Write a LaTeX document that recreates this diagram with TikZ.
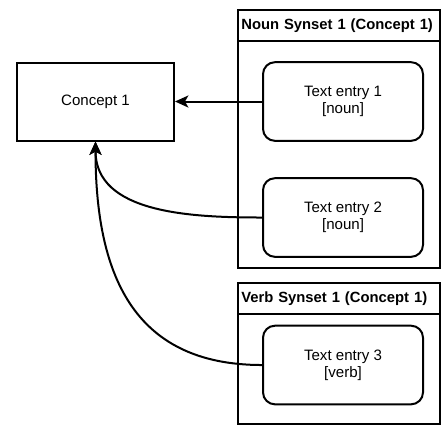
\documentclass[tikz,border=0pt]{standalone}
\usepackage{fontspec}
\setmainfont{Liberation Sans}
\usetikzlibrary{positioning,calc,arrows.meta}

\begin{document}
\begin{tikzpicture}[x=0.75pt, y=-0.75pt, every node/.style={font=\fontsize{11.3}{12.5}\selectfont}]
    \tikzset{concept/.style={rectangle, draw, line width=1.5pt, minimum width=117.75pt, minimum height=58.5pt}}
    \tikzset{entry/.style={rectangle, draw, line width=1.5pt, rounded corners=9pt, align=center, minimum width=120pt, minimum height=59pt}}
    \tikzset{synset/.style={rectangle, draw, line width=1.5pt, minimum width=151.5pt}}
    \tikzset{header/.style={rectangle, draw, line width=1.5pt, inner xsep=2.5pt, minimum height=23.25pt, text width=146.5pt, align=left, font=\fontsize{11.1}{12.5}\selectfont\bfseries}}
    \tikzset{line/.style={draw, -{Stealth[length=10pt, width=9pt, inset=2.5pt]}, line width=1.5pt}}

    \useasboundingbox (0,0) rectangle (441,426);

    \node [concept] (c1) at (95.5,101.5) {Concept 1};

    % noun synset
    \node [synset, minimum height=193.5pt] (noun) at (339,139) {};
    \node [header, anchor=north west] (nounhead) at (noun.north west) {Noun Synset 1 (Concept 1)};
    \node [entry] (e1) at (343,101.5) {Text entry 1\\{[}noun{]}};
    \node [entry] (e2) at (343,217.5) {Text entry 2\\{[}noun{]}};

    % verb synset
    \node [synset, minimum height=105.75pt] (verb) at (339,353.5) {};
    \node [header, anchor=north west] (verbhead) at (verb.north west) {Verb Synset 1 (Concept 1)};
    \node [entry] (e3) at (343,365) {Text entry 3\\{[}verb{]}};

    \path [line] (e1.west) -- (c1.east);
    \path [line] (e2.west) to[out=180, in=-90] (c1.south);
    \path [line] (e3.west) to[out=180, in=-90, looseness=1.2] (c1.south);
\end{tikzpicture}
\end{document}
